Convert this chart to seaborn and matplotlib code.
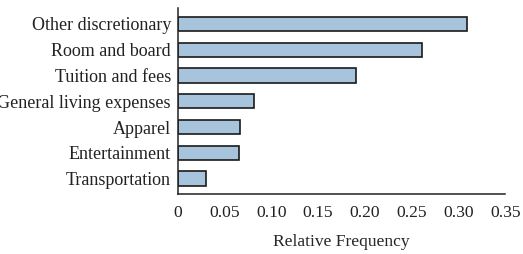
import numpy as np
import pandas as pd
import matplotlib
matplotlib.use("Agg")
import matplotlib.pyplot as plt
import seaborn as sns

categories = ["Other discretionary", "Room and board", "Tuition and fees",
              "General living expenses", "Apparel", "Entertainment", "Transportation"]
rel_freq = [0.309, 0.261, 0.190, 0.081, 0.067, 0.065, 0.030]
xticks = [0, 0.05, 0.10, 0.15, 0.20, 0.25, 0.30, 0.35]
xtick_labels = ["0", "0.05", "0.10", "0.15", "0.20", "0.25", "0.30", "0.35"]

df = pd.DataFrame({"category": categories, "freq": rel_freq})

sns.set_style("white")
plt.rcParams["font.family"] = ["Liberation Serif", "DejaVu Serif"]

fig = plt.figure(figsize=(5.23, 2.54), dpi=100)
ax = fig.add_axes([0.340, 0.236, 0.626, 0.733])
sns.barplot(data=df, x="freq", y="category", color="#a8c3dc", edgecolor="#1a1a1a",
            linewidth=1.2, width=0.55, ax=ax, saturation=1)
ax.set_xlim(0, 0.35)
ax.set_ylim(6.6, -0.62)
ax.set_xticks(xticks)
ax.set_xticklabels(xtick_labels)
ax.set_xlabel("Relative Frequency", fontsize=12.6, labelpad=9)
ax.set_ylabel("")
ax.tick_params(axis="x", direction="in", length=4, width=1, labelsize=12.6, pad=8, color="#222222")
ax.tick_params(axis="y", length=0, labelsize=13, pad=5)
for s in ["top", "right"]:
    ax.spines[s].set_visible(False)
for s in ["left", "bottom"]:
    ax.spines[s].set_color("#222222")
    ax.spines[s].set_linewidth(1.1)
for lbl in ax.get_xticklabels() + ax.get_yticklabels():
    lbl.set_color("#222222")
fig.savefig("out.png", dpi=100)
